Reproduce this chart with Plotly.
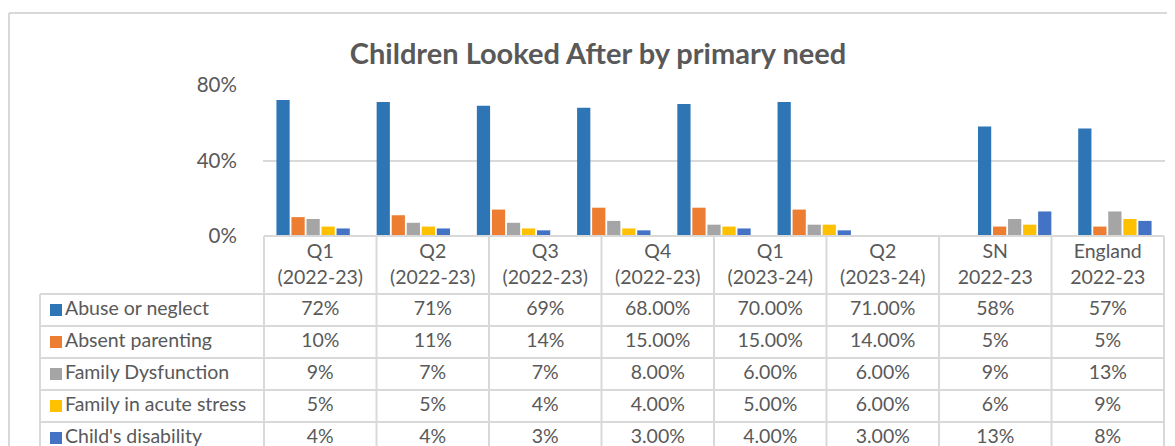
import plotly.graph_objects as go

# the page puts the figure 8px in from the top-left
OFF = 8
W, H = 1175 - OFF, 446 - OFF

categories = ["Q1<br>(2022-23)", "Q2<br>(2022-23)", "Q3<br>(2022-23)", "Q4<br>(2022-23)",
              "Q1<br>(2023-24)", "Q2<br>(2023-24)", "SN<br>2022-23", "England<br>2022-23"]
# chart leaves an empty slot before SN
bar_slots = [0, 1, 2, 3, 4, 5, 7, 8]

abuse = [72, 71, 69, 68, 70, 71, 58, 57]
absent = [10, 11, 14, 15, 15, 14, 5, 5]
dysfunction = [9, 7, 7, 8, 6, 6, 9, 13]
acute_stress = [5, 5, 4, 4, 5, 6, 6, 9]
disability = [4, 4, 3, 3, 4, 3, 13, 8]
table_decimals = [0, 0, 0, 2, 2, 2, 0, 0]

series = [
	("Abuse or neglect", abuse, "#2e75b6"),
	("Absent parenting", absent, "#ed7d31"),
	("Family Dysfunction", dysfunction, "#a5a5a5"),
	("Family in acute stress", acute_stress, "#ffc000"),
	("Child's disability", disability, "#4472c4"),
]

FONT = "Lato"
TXT = "#595959"
LINE = "#d9d9d9"

# layout in screen pixels
plot_l, plot_r, plot_t, plot_b = 263, 1165, 85, 236
tab_l, tab_r = 264, 1164
leg_l = 40
head_b = 294
row_h = 32
bottom = 470

def fx(x):
	return (x - OFF) / W

def fy(y):
	return 1 - (y - OFF) / H

fig = go.Figure()
for name, vals, color in series:
	fig.add_trace(go.Bar(x=bar_slots, y=vals, name=name, marker_color=color, marker_line_width=0,
		hovertemplate="%{y}%<extra>" + name + "</extra>"))

# text of the data table, drawn on a pixel canvas axis pair (x2/y2)
n = len(categories)
col_w = (tab_r - tab_l) / n
col_x = [tab_l + (i + 0.5) * col_w for i in range(n)]
cell_font = dict(family=FONT, size=19.5, color=TXT)

fig.add_trace(go.Scatter(x=col_x, y=[(plot_b + head_b) / 2 + 1] * n, text=categories, mode="text",
	textfont=cell_font, textposition="middle center", xaxis="x2", yaxis="y2", cliponaxis=False, hoverinfo="skip"))

shapes = []

def hline(x0, x1, y):
	shapes.append(dict(type="line", xref="x2", yref="y2", x0=x0, x1=x1, y0=y, y1=y, line=dict(color=LINE, width=2)))

def vline(x, y0, y1):
	shapes.append(dict(type="line", xref="x2", yref="y2", x0=x, x1=x, y0=y0, y1=y1, line=dict(color=LINE, width=2)))

# outer chart border
hline(9, 1200, 13)
vline(9, 13, bottom)

# table grid
for i in range(n + 1):
	vline(tab_l + i * col_w, plot_b, bottom)
vline(leg_l, head_b, bottom)
hline(tab_l, tab_r, plot_b)
for r in range(len(series) + 1):
	hline(leg_l, tab_r, head_b + r * row_h)

for r, (name, vals, color) in enumerate(series):
	yc = head_b + (r + 0.5) * row_h
	shapes.append(dict(type="rect", xref="x2", yref="y2", x0=50, x1=62, y0=yc - 6, y1=yc + 6,
		fillcolor=color, line=dict(width=0)))
	fig.add_trace(go.Scatter(x=[65], y=[yc], text=[name], mode="text", textfont=cell_font,
		textposition="middle right", xaxis="x2", yaxis="y2", cliponaxis=False, hoverinfo="skip"))
	fig.add_trace(go.Scatter(x=col_x, y=[yc] * n, text=[f"{v:.{d}f}%" for v, d in zip(vals, table_decimals)],
		mode="text", textfont=cell_font, textposition="middle center", xaxis="x2", yaxis="y2",
		cliponaxis=False, hoverinfo="skip"))

fig.update_layout(
	width=W, height=H,
	margin=dict(l=0, r=0, t=0, b=0),
	paper_bgcolor="white", plot_bgcolor="rgba(0,0,0,0)",
	showlegend=False,
	barmode="group", bargap=0.25, bargroupgap=0.12,
	title=dict(text="<b>Children Looked After by primary need</b>", x=fx(598), xanchor="center",
		y=fy(54), yanchor="middle", font=dict(family=FONT, size=29, color=TXT)),
	xaxis=dict(domain=[fx(plot_l), fx(plot_r)], range=[-0.5, 8.5], visible=False, automargin=False),
	yaxis=dict(domain=[fy(plot_b), fy(plot_t)], range=[0, 80], tickvals=[0, 40, 80], ticktext=["0%", "40%", "80%"],
		showgrid=True, gridcolor=LINE, gridwidth=2, zeroline=False, showline=False, automargin=False,
		ticks="outside", ticklen=21, tickcolor="rgba(0,0,0,0)",
		tickfont=dict(family=FONT, size=20.5, color=TXT)),
	xaxis2=dict(domain=[0, 1], range=[OFF, OFF + W], visible=False, automargin=False, fixedrange=True),
	yaxis2=dict(domain=[0, 1], range=[OFF + H, OFF], visible=False, automargin=False, fixedrange=True),
	shapes=shapes,
)

fig.write_html("out.html")
